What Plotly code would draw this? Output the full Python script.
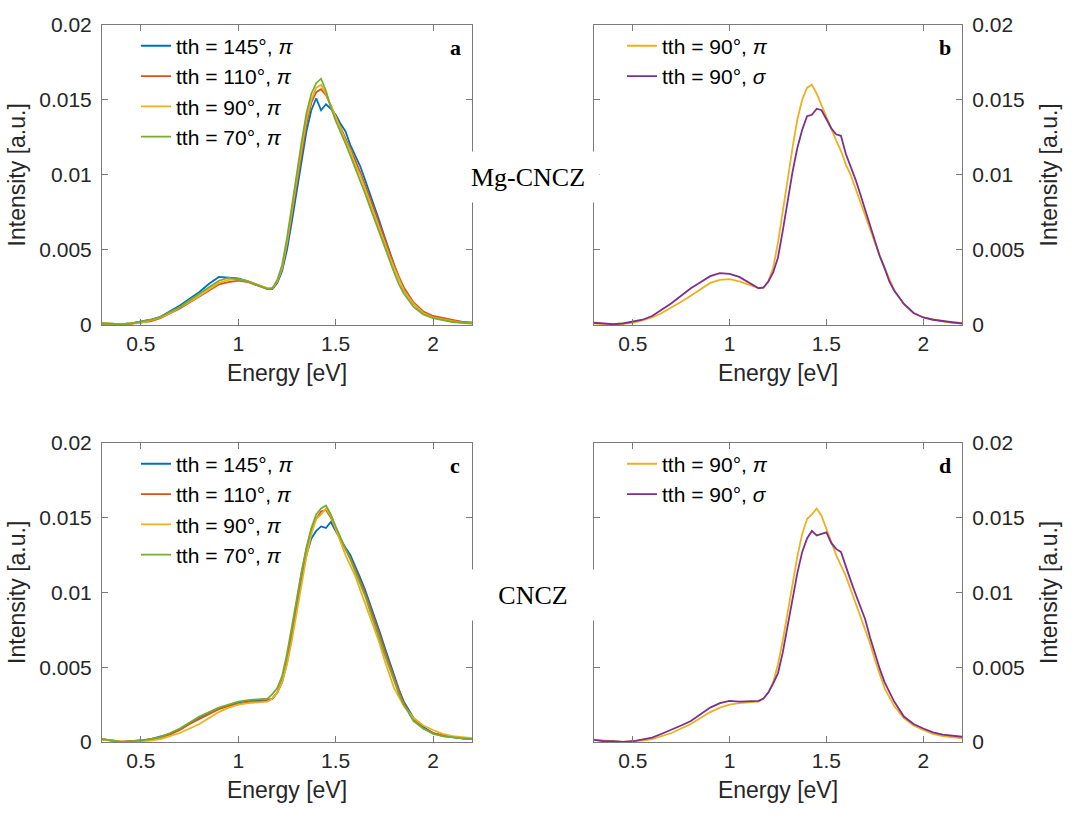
import plotly.graph_objects as go

# ---------------- data (intensity values in units of 1e-3 a.u.) ----------------
SCALE = 1e-3
energy = [0.30, 0.35, 0.40, 0.45, 0.50, 0.55, 0.60, 0.65, 0.70, 0.75, 0.80, 0.85, 0.90, 0.95,
          1.00, 1.05, 1.10, 1.15,
          1.175, 1.20, 1.225, 1.25, 1.275, 1.30, 1.325, 1.35, 1.375, 1.40, 1.425, 1.45, 1.475,
          1.50, 1.525, 1.55, 1.575, 1.60, 1.625, 1.65, 1.675, 1.70, 1.725, 1.75, 1.775, 1.80,
          1.825, 1.85,
          1.90, 1.95, 2.00, 2.05, 2.10, 2.15, 2.20]

# Mg-CNCZ
mg_145_pi = [0.1, 0.05, 0.05, 0.1, 0.2, 0.35, 0.55, 0.9, 1.3, 1.75, 2.2, 2.75, 3.2, 3.15,
             3.1, 2.9, 2.65, 2.4,
             2.4, 2.8, 3.6, 5.0, 6.9, 9.0, 11.0, 12.9, 14.3, 15.1, 14.3, 14.7, 14.4,
             14.0, 13.4, 12.9, 12.0, 11.3, 10.6, 9.7, 8.8, 7.9, 6.9, 5.9, 4.9, 4.0,
             3.1, 2.4,
             1.4, 0.8, 0.5, 0.35, 0.25, 0.2, 0.15]
mg_110_pi = [0.1, 0.05, 0.05, 0.1, 0.15, 0.25, 0.45, 0.75, 1.1, 1.5, 1.9, 2.3, 2.7, 2.85,
             2.95, 2.85, 2.65, 2.4,
             2.4, 2.9, 3.8, 5.4, 7.4, 9.5, 11.5, 13.4, 14.8, 15.5, 15.7, 15.3, 14.6,
             13.9, 13.2, 12.5, 11.8, 11.0, 10.2, 9.4, 8.5, 7.6, 6.7, 5.7, 4.8, 4.0,
             3.2, 2.5,
             1.5, 0.9, 0.6, 0.45, 0.3, 0.2, 0.15]
mg_90_pi = [0.1, 0.05, 0.05, 0.1, 0.15, 0.3, 0.5, 0.8, 1.15, 1.55, 1.95, 2.4, 2.8, 3.0,
            3.05, 2.9, 2.7, 2.45,
            2.45, 2.9, 3.8, 5.5, 7.6, 9.8, 11.8, 13.7, 15.0, 15.8, 16.0, 15.4, 14.6,
            13.8, 13.1, 12.3, 11.6, 10.7, 10.0, 9.1, 8.2, 7.3, 6.4, 5.4, 4.6, 3.8,
            3.0, 2.3,
            1.4, 0.8, 0.5, 0.35, 0.25, 0.15, 0.15]
mg_70_pi = [0.1, 0.05, 0.05, 0.1, 0.2, 0.35, 0.55, 0.85, 1.2, 1.65, 2.1, 2.55, 2.95, 3.15,
            3.05, 2.9, 2.65, 2.4,
            2.45, 3.0, 4.0, 5.8, 7.9, 10.1, 12.2, 14.1, 15.4, 16.1, 16.4, 15.6, 14.5,
            13.6, 12.9, 12.1, 11.3, 10.5, 9.7, 8.8, 7.9, 7.0, 6.1, 5.2, 4.3, 3.5,
            2.7, 2.1,
            1.2, 0.7, 0.45, 0.3, 0.2, 0.15, 0.1]
mg_90_sigma = [0.15, 0.1, 0.05, 0.1, 0.2, 0.35, 0.6, 1.0, 1.45, 1.95, 2.45, 2.85, 3.25, 3.45,
               3.4, 3.2, 2.8, 2.45,
               2.5, 2.9, 3.5, 4.5, 6.3, 8.3, 10.2, 11.8, 13.0, 13.9, 14.0, 14.4, 14.3,
               13.7, 13.1, 12.7, 12.6, 11.4, 10.6, 9.7, 8.7, 7.7, 6.6, 5.6, 4.6, 3.8,
               2.9, 2.3,
               1.4, 0.8, 0.5, 0.35, 0.25, 0.15, 0.1]

# CNCZ
cn_145_pi = [0.2, 0.1, 0.0, 0.05, 0.1, 0.2, 0.35, 0.55, 0.85, 1.25, 1.65, 1.95, 2.25, 2.45,
             2.65, 2.75, 2.8, 2.8,
             2.9, 3.3, 4.0, 5.3, 7.1, 9.1, 11.0, 12.5, 13.6, 14.1, 14.4, 14.3, 14.7,
             14.1, 13.5, 13.0, 12.5, 11.8, 11.0, 10.2, 9.3, 8.4, 7.4, 6.4, 5.4, 4.4,
             3.5, 2.7,
             1.6, 1.0, 0.6, 0.4, 0.3, 0.25, 0.2]
cn_110_pi = [0.2, 0.1, 0.0, 0.05, 0.1, 0.2, 0.3, 0.5, 0.8, 1.2, 1.55, 1.9, 2.2, 2.4,
             2.55, 2.65, 2.7, 2.75,
             2.9, 3.3, 4.1, 5.6, 7.4, 9.4, 11.3, 12.9, 14.2, 14.9, 15.4, 15.5, 15.0,
             14.2, 13.5, 12.9, 12.3, 11.6, 10.8, 10.0, 9.1, 8.2, 7.2, 6.2, 5.2, 4.3,
             3.4, 2.6,
             1.5, 0.9, 0.6, 0.45, 0.35, 0.25, 0.2]
cn_90_pi = [0.15, 0.1, 0.0, 0.0, 0.05, 0.1, 0.2, 0.4, 0.6, 0.9, 1.2, 1.6, 2.0, 2.3,
            2.5, 2.6, 2.65, 2.7,
            2.9, 3.3, 4.0, 5.2, 6.8, 8.6, 10.6, 12.4, 13.9, 14.9, 15.2, 15.6, 15.1,
            14.2, 13.3, 12.5, 11.8, 11.1, 10.2, 9.3, 8.5, 7.6, 6.6, 5.5, 4.5, 3.6,
            3.0, 2.4,
            1.6, 1.1, 0.8, 0.55, 0.4, 0.3, 0.25]
cn_70_pi = [0.2, 0.1, 0.0, 0.05, 0.1, 0.2, 0.35, 0.6, 0.9, 1.3, 1.7, 2.0, 2.3, 2.5,
            2.7, 2.8, 2.85, 2.9,
            3.2, 3.6, 4.4, 5.9, 7.7, 9.6, 11.4, 13.0, 14.3, 15.2, 15.6, 15.8, 15.2,
            14.4, 13.6, 12.9, 12.2, 11.4, 10.5, 9.8, 8.8, 7.9, 6.9, 5.9, 5.0, 4.1,
            3.2, 2.5,
            1.4, 0.9, 0.55, 0.4, 0.3, 0.25, 0.2]
cn_90_sigma = [0.15, 0.05, 0.05, 0.0, 0.05, 0.15, 0.3, 0.55, 0.8, 1.1, 1.4, 1.85, 2.3, 2.6,
               2.75, 2.7, 2.7, 2.75,
               2.9, 3.3, 3.9, 4.6, 6.0, 7.7, 9.6, 11.3, 12.7, 13.6, 14.1, 13.8, 13.9,
               14.0, 13.3, 12.9, 12.7, 11.7, 10.8, 9.9, 9.0, 8.2, 7.0, 5.9, 4.9, 4.0,
               3.3, 2.7,
               1.7, 1.2, 0.9, 0.65, 0.5, 0.4, 0.35]

x_ticks = [0.5, 1, 1.5, 2]
x_tick_text = ["0.5", "1", "1.5", "2"]
y_ticks = [0, 0.005, 0.01, 0.015, 0.02]
y_tick_text = ["0", "0.005", "0.01", "0.015", "0.02"]

BLUE, RED, YELLOW, GREEN, PURPLE = "#0072BD", "#D95319", "#EDB120", "#77AC30", "#7E2F8E"
PI = "<i>π</i>"
SIG = "<i>σ</i>"

panels = {
    "a": [("tth = 145°, " + PI, mg_145_pi, BLUE), ("tth = 110°, " + PI, mg_110_pi, RED),
          ("tth = 90°, " + PI, mg_90_pi, YELLOW), ("tth = 70°, " + PI, mg_70_pi, GREEN)],
    "b": [("tth = 90°, " + PI, mg_90_pi, YELLOW), ("tth = 90°, " + SIG, mg_90_sigma, PURPLE)],
    "c": [("tth = 145°, " + PI, cn_145_pi, BLUE), ("tth = 110°, " + PI, cn_110_pi, RED),
          ("tth = 90°, " + PI, cn_90_pi, YELLOW), ("tth = 70°, " + PI, cn_70_pi, GREEN)],
    "d": [("tth = 90°, " + PI, cn_90_pi, YELLOW), ("tth = 90°, " + SIG, cn_90_sigma, PURPLE)],
}

W, H = 1075, 823
FONT = "Liberation Sans, Arial, Helvetica, sans-serif"
SERIF = "Liberation Serif, Times New Roman, serif"
AX_COL = "#7a7a7a"
TXT_COL = "#262626"

# pixel boxes of each axes (left, right, top, bottom)
boxes = {"a": (102, 472, 13, 322), "b": (594, 962, 13, 322),
         "c": (102, 472, 443, 751), "d": (594, 962, 443, 751)}
sides = {"a": "left", "b": "right", "c": "left", "d": "right"}
title_standoff = {"a": 7, "b": 17, "c": 7, "d": 17}
legend_px = {"a": (136, 14), "b": (622, 14), "c": (136, 444), "d": (622, 444)}

fig = go.Figure()
layout = dict(width=W, height=H, margin=dict(l=0, r=0, t=0, b=0),
              paper_bgcolor="white", plot_bgcolor="white",
              font=dict(family=FONT, size=21, color=TXT_COL))

annotations = []
for i, key in enumerate(["a", "b", "c", "d"]):
    n = "" if i == 0 else str(i + 1)
    leg = "legend" if i == 0 else "legend" + str(i + 1)
    for name, vals, col in panels[key]:
        fig.add_trace(go.Scatter(
            x=energy, y=[v * SCALE for v in vals], mode="lines", name=name,
            line=dict(color=col, width=1.8), xaxis="x" + n, yaxis="y" + n, legend=leg))
    l, r, t, b = boxes[key]
    layout["xaxis" + n] = dict(
        domain=[l / W, r / W], anchor="y" + n, range=[0.3, 2.2],
        tickvals=x_ticks, ticktext=x_tick_text, ticks="inside", ticklen=6,
        tickcolor=AX_COL, showline=True, linecolor=AX_COL, linewidth=1, mirror="ticks",
        showgrid=False, zeroline=False, tickfont=dict(size=21, color=TXT_COL),
        title=dict(text="Energy [eV]", font=dict(size=23, color=TXT_COL), standoff=10))
    layout["yaxis" + n] = dict(
        domain=[1 - b / H, 1 - t / H], anchor="x" + n, range=[0, 0.02], side=sides[key],
        tickvals=y_ticks, ticktext=y_tick_text, ticks="inside", ticklen=6,
        ticklabelstandoff=5,
        tickcolor=AX_COL, showline=True, linecolor=AX_COL, linewidth=1, mirror="ticks",
        showgrid=False, zeroline=False, tickfont=dict(size=21, color=TXT_COL),
        title=dict(text="Intensity [a.u.]", font=dict(size=23, color=TXT_COL),
                   standoff=title_standoff[key]))
    lx, ly = legend_px[key]
    layout[leg] = dict(x=lx / W, y=1 - ly / H, xanchor="left", yanchor="top",
                       bgcolor="rgba(0,0,0,0)", borderwidth=0,
                       font=dict(size=21, color="#000000", family=FONT), tracegroupgap=0)
    annotations.append(dict(text="<b>" + key + "</b>", x=(r - 17) / W, y=1 - (t + 24) / H,
                            xref="paper", yref="paper", xanchor="center", yanchor="middle",
                            showarrow=False,
                            font=dict(family=SERIF, size=22, color="#000000")))

annotations.append(dict(text="Mg-CNCZ", x=528 / W, y=1 - 170 / H, xref="paper", yref="paper",
                        xanchor="center", yanchor="middle",
                        showarrow=False, width=140, height=48, bgcolor="white",
                        font=dict(family=SERIF, size=26, color="#000000")))
annotations.append(dict(text="CNCZ", x=533 / W, y=1 - 600 / H, xref="paper", yref="paper",
                        xanchor="center", yanchor="middle",
                        showarrow=False, width=140, height=48, bgcolor="white",
                        font=dict(family=SERIF, size=26, color="#000000")))
layout["annotations"] = annotations

fig.update_layout(**layout)
fig.write_html("out.html", config={"displayModeBar": False},
               post_script="document.body.style.margin='0';")
